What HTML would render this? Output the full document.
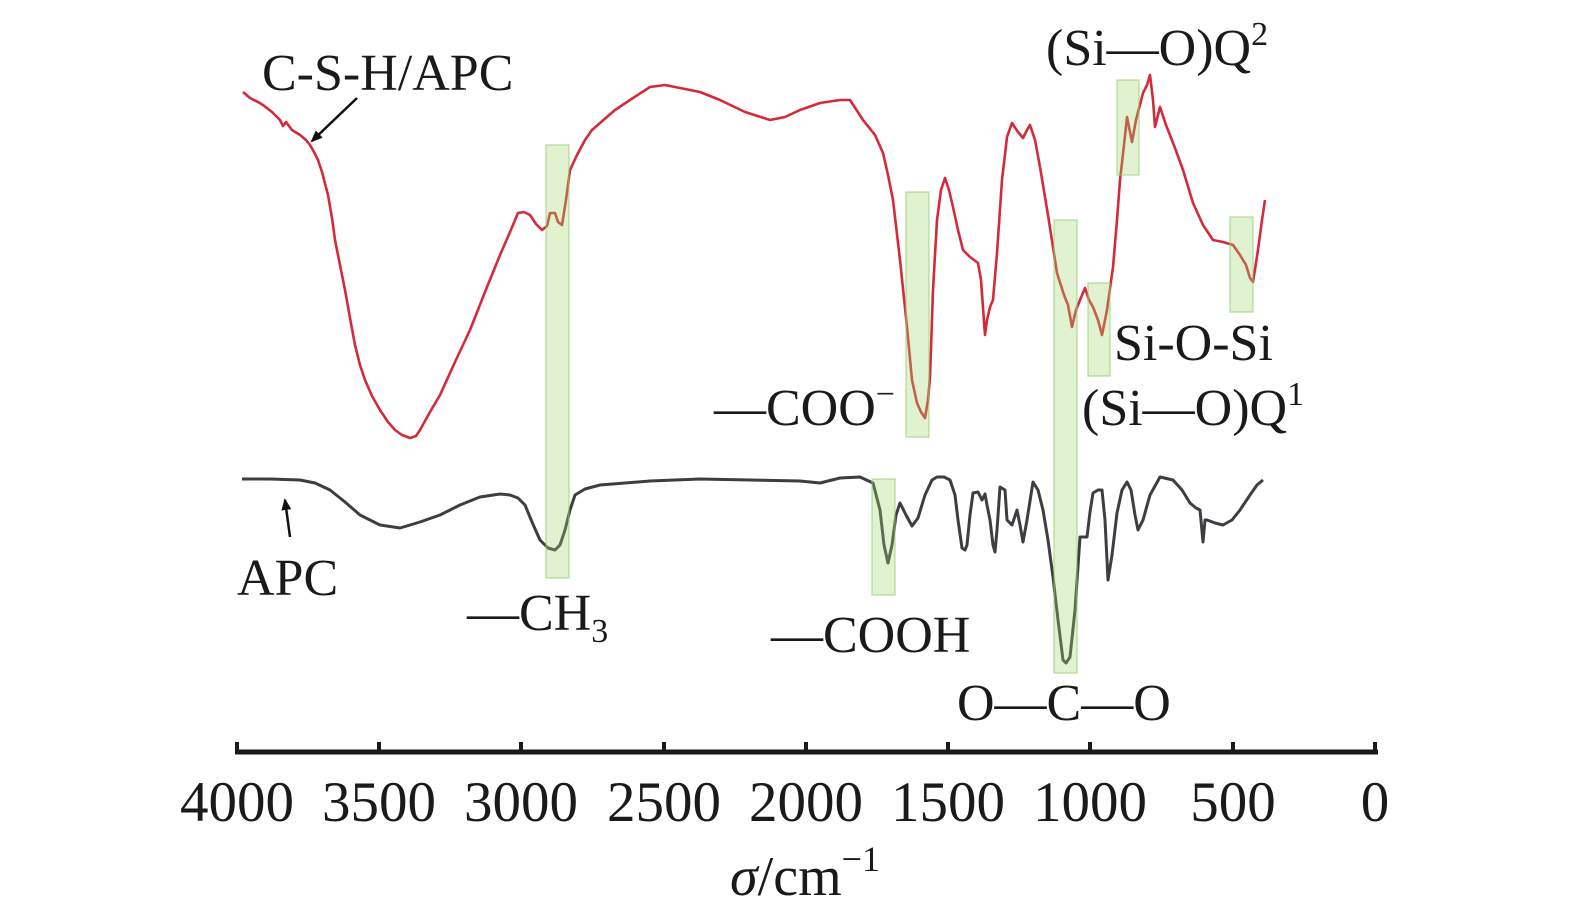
<!DOCTYPE html>
<html><head><meta charset="utf-8"><style>
body{margin:0;background:#fff;}
svg{display:block;}
text{font-family:"Liberation Serif",serif;fill:#1a1a1a;}
</style></head><body>
<svg width="1575" height="922" viewBox="0 0 1575 922" xmlns="http://www.w3.org/2000/svg">
<defs>
<marker id="ah" markerWidth="12" markerHeight="10" refX="10" refY="5" orient="auto" markerUnits="userSpaceOnUse"><path d="M0,0 L12,5 L0,10 z" fill="#111"/></marker>
</defs>
<polyline fill="none" stroke="#d42a3a" stroke-width="2.6" stroke-linejoin="round" points="243,92 250,98 258,102 263,105 272,112 280,120 283,126 286,122 292,130 300,135 306,140 310,145 314,152 318,160 322,172 328,195 332,218 335,240 340,265 345,290 350,318 355,345 360,365 365,380 372,396 380,410 388,422 395,430 402,435 410,438 416,436 420,430 430,412 440,395 455,362 470,330 485,292 500,255 510,232 518,213 524,212 530,215 536,224 542,230 547,226 550,213 555,213 558,222 562,225 566,200 570,170 577,155 585,140 592,130 600,123 615,110 630,100 650,87 665,85 680,88 700,92 720,100 745,112 770,120 785,117 800,110 820,103 840,100 850,100 863,120 875,135 883,153 888,175 893,200 900,260 907,327 912,380 917,403 921,412 925,418 928,400 930,377 933,290 937,220 941,190 945,178 949,190 953,207 958,230 963,250 970,257 978,263 981,280 985,335 987,320 990,307 993,300 997,253 1002,180 1007,137 1012,123 1018,132 1023,138 1027,130 1030,125 1035,140 1040,167 1048,215 1057,273 1064,295 1068,305 1072,327 1076,310 1080,300 1085,288 1089,300 1093,307 1098,320 1102,335 1107,310 1113,267 1117,220 1120,180 1124,145 1127,117 1130,132 1132,142 1136,120 1143,93 1147,85 1150,75 1153,100 1155,127 1158,115 1160,107 1166,125 1175,148 1183,170 1193,203 1203,225 1213,240 1223,242 1233,245 1240,255 1246,265 1250,278 1253,282 1258,250 1262,220 1265,200"/>
<polyline fill="none" stroke="#3d3d42" stroke-width="3" stroke-linejoin="round" points="242,479 270,479 300,480 315,483 330,490 345,502 360,515 380,525 400,528 420,522 440,515 460,505 480,497 500,494 510,495 518,498 525,505 532,522 540,540 548,548 555,550 560,545 565,530 570,510 575,495 585,489 600,485 650,481 700,479 750,480 800,481 820,483 840,478 860,477 873,483 880,510 884,545 888,563 892,545 896,515 900,503 906,515 912,526 918,518 925,495 932,480 937,477 944,477 950,480 955,495 958,520 962,548 965,550 967,545 970,515 973,493 978,492 982,500 985,494 987,505 990,520 993,545 995,552 997,530 1000,487 1005,490 1007,520 1012,525 1017,510 1020,525 1023,542 1027,520 1033,482 1038,490 1043,510 1048,540 1053,577 1058,620 1063,660 1066,663 1070,657 1075,610 1080,537 1087,537 1090,512 1093,493 1098,490 1102,490 1105,520 1108,580 1112,555 1117,513 1122,490 1127,482 1131,490 1135,515 1138,530 1143,520 1150,495 1160,477 1173,480 1182,490 1190,503 1196,508 1200,510 1203,542 1205,520 1207,520 1215,523 1223,525 1232,520 1240,510 1250,495 1257,485 1263,480"/>
<g fill="rgba(160,215,110,0.32)" stroke="rgba(150,205,110,0.55)" stroke-width="1.5">
<rect x="546" y="145" width="23" height="433"/>
<rect x="906" y="192" width="23" height="245"/>
<rect x="1054" y="220" width="23" height="453"/>
<rect x="1088" y="283" width="22" height="93"/>
<rect x="1117" y="80" width="22" height="95"/>
<rect x="1230" y="217" width="23" height="95"/>
<rect x="872" y="479" width="23" height="116"/>
</g>
<line x1="357" y1="98" x2="312" y2="141" stroke="#111" stroke-width="2.5" marker-end="url(#ah)"/>
<line x1="290" y1="537" x2="285" y2="500" stroke="#111" stroke-width="2.5" marker-end="url(#ah)"/>
<g font-size="52">
<text x="262" y="90">C-S-H/APC</text>
<text x="237" y="595">APC</text>
<text x="467" y="630">—CH<tspan font-size="34" dy="12">3</tspan></text>
<text x="714" y="425">—COO<tspan font-size="34" dy="-20">−</tspan></text>
<text x="771" y="652">—COOH</text>
<text x="957" y="720">O—C—O</text>
<text x="1114" y="360">Si-O-Si</text>
<text x="1082" y="425">(Si—O)Q<tspan font-size="34" dy="-20">1</tspan></text>
<text x="1046" y="65">(Si—O)Q<tspan font-size="34" dy="-20">2</tspan></text>
</g>
<line x1="235" y1="752" x2="1378" y2="752" stroke="#1a1a1a" stroke-width="5"/>
<g stroke="#1a1a1a" stroke-width="4">
<line x1="237" y1="742" x2="237" y2="754"/><line x1="379" y1="742" x2="379" y2="754"/><line x1="521" y1="742" x2="521" y2="754"/><line x1="664" y1="742" x2="664" y2="754"/><line x1="806" y1="742" x2="806" y2="754"/><line x1="948" y1="742" x2="948" y2="754"/><line x1="1090" y1="742" x2="1090" y2="754"/><line x1="1233" y1="742" x2="1233" y2="754"/><line x1="1375" y1="742" x2="1375" y2="754"/>
</g>
<g font-size="57" text-anchor="middle">
<text x="237" y="821">4000</text><text x="379" y="821">3500</text><text x="521" y="821">3000</text><text x="664" y="821">2500</text><text x="806" y="821">2000</text><text x="948" y="821">1500</text><text x="1090" y="821">1000</text><text x="1233" y="821">500</text><text x="1375" y="821">0</text>
</g>
<text x="805" y="895" font-size="56" text-anchor="middle"><tspan font-style="italic">σ</tspan>/cm<tspan font-size="36" dy="-24">−1</tspan></text>
</svg>
</body></html>
